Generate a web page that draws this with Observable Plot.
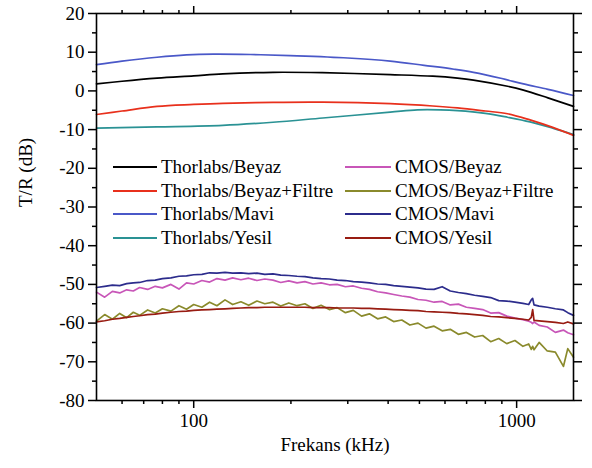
<!DOCTYPE html>
<html>
<head>
<meta charset="utf-8">
<script src="https://cdn.jsdelivr.net/npm/d3@7"></script>
<script src="https://cdn.jsdelivr.net/npm/@observablehq/plot@0.6"></script>
<style>
  html, body { margin: 0; padding: 0; background: #fff; }
  #wrap { position: relative; width: 592px; height: 468px; font-family: "Liberation Serif", "Times New Roman", Times, "DejaVu Serif", serif; }
  #wrap svg, #wrap svg text { font-family: "Liberation Serif", "Times New Roman", Times, "DejaVu Serif", serif !important; }
  #legend { position: absolute; left: 113px; top: 155px; font-size: 19px; color: #000; }
  .row { position: absolute; display: flex; align-items: center; height: 24px; white-space: nowrap; }
  .sw { width: 44px; height: 0; border-top: 2px solid; margin-right: 4px; }
</style>
</head>
<body>
<div id="wrap"><div id="legend"></div></div>
<script>
// ---- Data ----
const seriesNames = ["Thorlabs/Beyaz", "Thorlabs/Beyaz+Filtre", "Thorlabs/Mavi", "Thorlabs/Yesil",
                     "CMOS/Beyaz", "CMOS/Beyaz+Filtre", "CMOS/Mavi", "CMOS/Yesil"];
const seriesColors = ["#000000", "#e8301c", "#4a58c8", "#2a9294",
                      "#c856b8", "#8a8a2c", "#2c2c8c", "#981c12"];

// Thorlabs (smooth) : [kHz, dB]
const thorBeyaz = [[50,1.8],[60,2.5],[77,3.3],[100,3.9],[123,4.4],[176,4.8],[250,4.7],[406,4.2],[550,3.8],[656,3.3],[735,2.8],[937,1.2],[1050,0.2],[1250,-1.8],[1500,-4.0]];
const thorFiltre = [[50,-6.1],[60,-5.2],[77,-4.0],[100,-3.5],[123,-3.2],[176,-2.95],[251,-2.9],[406,-3.3],[550,-3.9],[656,-4.4],[800,-5.2],[937,-5.9],[1100,-7.5],[1300,-9.5],[1500,-11.5]];
const thorMavi = [[50,6.8],[60,7.7],[77,8.7],[95,9.3],[115,9.5],[150,9.4],[199,9.1],[300,8.5],[406,7.7],[517,6.6],[640,5.6],[735,4.8],[900,3.2],[1050,1.8],[1250,0.4],[1500,-1.2]];
const thorYesil = [[50,-9.6],[77,-9.3],[123,-8.9],[176,-8.1],[251,-7.0],[406,-5.5],[493,-4.9],[580,-4.9],[656,-5.1],[800,-5.8],[937,-6.8],[1100,-8.0],[1300,-9.7],[1500,-11.3]];

// CMOS (noisy) on shared frequency grid (kHz)
const cmosFreq = [50,53,56,59,62,65,68,72,76,80,85,90,95,100,106,112,118,125,132,140,148,157,166,176,186,197,209,221,234,248,263,278,295,312,331,350,371,393,416,441,467,495,524,555,588,623,660,699,741,785,831,880,932,988,1046,1090,1110,1121,1132,1174,1244,1318,1396,1440,1500];
const cmosBeyaz = [-52.0,-53.3,-51.8,-52.2,-51.4,-51.7,-50.8,-51.3,-50.5,-50.9,-50.0,-51.2,-49.6,-49.9,-49.0,-49.4,-48.5,-48.9,-48.3,-48.8,-48.4,-49.0,-48.6,-48.9,-49.5,-49.1,-49.6,-49.3,-49.9,-49.6,-50.1,-50.0,-50.6,-50.4,-51.0,-51.3,-51.9,-52.2,-52.6,-53.0,-53.3,-53.9,-54.1,-54.6,-54.4,-55.3,-55.1,-55.9,-56.2,-56.5,-57.4,-57.3,-58.2,-58.7,-59.1,-59.5,-59.8,-60.1,-59.7,-60.6,-61.0,-62.4,-61.8,-62.5,-63.0];
const cmosFiltre = [-59.5,-57.8,-59.0,-57.5,-58.6,-57.2,-58.0,-56.6,-57.4,-56.3,-56.9,-55.5,-56.4,-55.2,-55.9,-54.6,-55.5,-54.0,-55.2,-54.5,-55.4,-54.3,-55.0,-54.6,-55.6,-54.8,-55.5,-55.0,-56.2,-55.4,-56.5,-56.0,-57.3,-56.7,-58.2,-57.6,-58.9,-58.4,-59.6,-59.2,-60.5,-60.0,-61.3,-60.8,-62.0,-61.6,-62.9,-62.4,-63.6,-63.2,-64.8,-64.0,-65.3,-64.5,-66.0,-65.4,-66.8,-66.0,-66.9,-65.0,-67.2,-67.5,-71.2,-66.6,-68.8];
const cmosMavi = [-50.8,-50.5,-50.2,-50.3,-49.8,-49.6,-49.5,-49.0,-48.9,-48.5,-48.3,-47.9,-47.8,-47.5,-47.4,-47.0,-47.1,-46.9,-47.1,-47.0,-47.2,-47.1,-47.4,-47.3,-47.6,-47.7,-47.9,-48.0,-48.3,-48.5,-48.6,-48.9,-49.0,-49.3,-49.4,-49.6,-49.9,-50.0,-50.3,-50.5,-50.7,-50.9,-51.2,-51.3,-50.6,-51.7,-52.1,-52.4,-52.8,-53.1,-53.4,-54.2,-54.3,-54.6,-54.9,-55.2,-54.0,-53.6,-55.3,-55.6,-55.9,-56.3,-56.6,-57.3,-58.0];
const cmosYesil = [-59.7,-59.4,-59.0,-58.8,-58.5,-58.3,-58.1,-57.8,-57.7,-57.4,-57.2,-57.0,-56.9,-56.7,-56.6,-56.5,-56.4,-56.3,-56.2,-56.1,-56.0,-56.0,-55.9,-55.9,-55.9,-55.9,-55.9,-55.9,-56.0,-56.0,-56.0,-56.1,-56.1,-56.1,-56.2,-56.2,-56.3,-56.4,-56.5,-56.6,-56.7,-56.8,-57.0,-57.1,-57.2,-57.3,-57.5,-57.6,-57.8,-58.0,-58.3,-58.4,-58.6,-58.8,-59.0,-59.2,-58.5,-56.5,-59.3,-59.4,-59.6,-59.8,-60.1,-59.7,-60.2];

// Axis ticks
const yMajor = [-80,-70,-60,-50,-40,-30,-20,-10,0,10,20];
const yMinor = [-75,-65,-55,-45,-35,-25,-15,-5,5,15];
const xMajor = [100, 1000];
const xMinor = [60,70,80,90,200,300,400,500,600,700,800,900];

// ---- Build tables ----
const pairs = (arr) => arr.map(([f, v]) => ({f, v}));
const grid = (vals) => vals.map((v, i) => ({f: cmosFreq[i], v}));
const tables = [pairs(thorBeyaz), pairs(thorFiltre), pairs(thorMavi), pairs(thorYesil),
                grid(cmosBeyaz), grid(cmosFiltre), grid(cmosMavi), grid(cmosYesil)];

const lineMarks = tables.map((t, i) => Plot.line(t, {
  x: "f", y: "v", stroke: seriesColors[i], strokeWidth: 1.7,
  curve: i < 4 ? "catmull-rom" : "linear"
}));
const order = [0, 2, 3, 1, 4, 5, 7, 6];

const fmt = d => String(d);
const FONT = "'Liberation Serif', 'Times New Roman', Times, 'DejaVu Serif', serif";
const chart = Plot.plot({
  width: 592, height: 468,
  marginLeft: 96, marginRight: 19, marginTop: 13, marginBottom: 68,
  style: {fontFamily: FONT, fontSize: "19px", background: "#fff", color: "#000"},
  x: {type: "log", domain: [50, 1500]},
  y: {domain: [-80, 20]},
  marks: [
    ...order.map(i => lineMarks[i]),
    Plot.axisY({ticks: yMajor, tickSize: 8, tickPadding: 4, tickFormat: fmt, fontSize: 19, label: null, strokeWidth: 1.5}),
    Plot.axisY({ticks: yMinor, tickSize: 4, text: null, label: null, strokeWidth: 1.5}),
    Plot.axisY({anchor: "right", ticks: yMajor, tickSize: 8, text: null, label: null, strokeWidth: 1.5}),
    Plot.axisY({anchor: "right", ticks: yMinor, tickSize: 4, text: null, label: null, strokeWidth: 1.5}),
    Plot.axisX({ticks: xMajor, tickSize: 8, tickPadding: 5, tickFormat: fmt, fontSize: 19, label: null, strokeWidth: 1.5}),
    Plot.axisX({ticks: xMinor, tickSize: 4, text: null, label: null, strokeWidth: 1.5}),
    Plot.axisX({anchor: "top", ticks: xMajor, tickSize: 8, text: null, label: null, strokeWidth: 1.5}),
    Plot.axisX({anchor: "top", ticks: xMinor, tickSize: 4, text: null, label: null, strokeWidth: 1.5}),
    Plot.frame({stroke: "#000", strokeWidth: 1.6}),
    Plot.text(["Frekans (kHz)"], {text: d => d, frameAnchor: "bottom", dy: 50, fontSize: 19, fill: "#000"}),
    Plot.text(["T/R (dB)"], {text: d => d, frameAnchor: "left", dx: -71, rotate: -90, fontSize: 19, fill: "#000"})
  ]
});
const wrap = document.getElementById("wrap");
wrap.insertBefore(chart, wrap.firstChild);

// Legend (inside plot, two columns)
const legend = document.getElementById("legend");
seriesNames.forEach((name, i) => {
  const col = Math.floor(i / 4), r = i % 4;
  const row = document.createElement("div");
  row.className = "row";
  row.style.left = (col === 0 ? 0 : 232) + "px";
  row.style.top = (r * 23.7) + "px";
  const sw = document.createElement("div");
  sw.className = "sw";
  sw.style.borderColor = seriesColors[i];
  if (col === 1) sw.style.width = "46px";
  const tx = document.createElement("span");
  tx.textContent = name;
  row.appendChild(sw); row.appendChild(tx);
  legend.appendChild(row);
});
</script>
</body>
</html>
